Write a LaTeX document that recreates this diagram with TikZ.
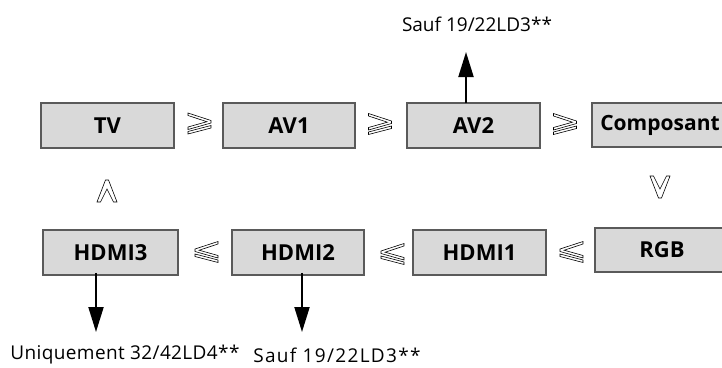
\documentclass[tikz,border=0pt]{standalone}
\usepackage{fontspec}
\setmainfont{Open Sans}
\usetikzlibrary{arrows.meta}
\definecolor{boxfill}{RGB}{217,217,217}
\definecolor{boxline}{RGB}{90,90,90}
\tikzset{
  menubox/.style={draw=boxline, line width=1.5pt, fill=boxfill, inner sep=0pt,
    font=\fontsize{22}{22}\selectfont\bfseries},
  symb/.style={draw=black, line width=0.6pt, fill=white, line join=miter},
  outarrow/.style={line width=2pt, -{Triangle[width=15pt,length=25pt]}},
  lbl/.style={inner sep=0pt, font=\fontsize{19}{19}\selectfont}
}
\newcommand\geqmark[1]{%
  \path[symb,shift={(#1)}] (-11.5,-10.5) -- (11.5,-3) -- (11.5,-0.5) -- (-11.5,6) -- (-11.5,3.5) -- (7.4,-1.8) -- (-11.5,-8) -- cycle
    (11.5,2) -- (11.5,4.5) -- (-11.5,10.5) -- (-11.5,8) -- cycle;}
\newcommand\leqmark[1]{%
  \path[symb,shift={(#1)},xscale=-1] (-11.5,-10.5) -- (11.5,-3) -- (11.5,-0.5) -- (-11.5,6) -- (-11.5,3.5) -- (7.4,-1.8) -- (-11.5,-8) -- cycle
    (11.5,2) -- (11.5,4.5) -- (-11.5,10.5) -- (-11.5,8) -- cycle;}
\newcommand\upmark[1]{%
  \path[symb,shift={(#1)}] (-10,11) -- (-1.5,-11) -- (1.5,-11) -- (10,11) -- (6.5,11) -- (0,-2) -- (-6.5,11) -- cycle;}
\newcommand\downmark[1]{%
  \path[symb,shift={(#1)},yscale=-1] (-10,11) -- (-1.5,-11) -- (1.5,-11) -- (10,11) -- (6.5,11) -- (0,-2) -- (-6.5,11) -- cycle;}
\begin{document}
\begin{tikzpicture}[x=1pt,y=-1pt]
\useasboundingbox (0,0) rectangle (722,367);
% top row
\node[menubox, minimum width=133pt, minimum height=45pt] (tv) at (107.5,125.5) {TV};
\node[menubox, minimum width=132pt, minimum height=45pt] (av1) at (289,125.5) {AV1};
\node[menubox, minimum width=133pt, minimum height=45pt] (av2) at (473.5,125.5) {AV2};
\node[menubox, minimum width=136pt, minimum height=44pt, font=\fontsize{21}{21}\selectfont\bfseries] (comp) at (660,125) {Composant};
% bottom row
\node[menubox, minimum width=135pt, minimum height=45pt] (h3) at (110.5,252.5) {HDMI3};
\node[menubox, minimum width=132pt, minimum height=45pt] (h2) at (298,252.5) {HDMI2};
\node[menubox, minimum width=133pt, minimum height=45pt] (h1) at (479.5,252.5) {HDMI1};
\node[menubox, minimum width=134pt, minimum height=44pt] (rgb) at (662,250) {RGB};
% order marks
\geqmark{199.5,123.5}
\geqmark{380,124}
\geqmark{565,124}
\leqmark{206.5,252}
\leqmark{392.5,254}
\leqmark{571.5,252}
\upmark{107,191}
\downmark{660,187}
% arrows and labels
\coordinate (t2) at (466,52);
\coordinate (b3) at (96,332);
\coordinate (b2) at (302,332);
\draw[outarrow] ([yshift=-1pt]av2.north -| t2) -- (t2);
\draw[outarrow] ([yshift=3pt]h3.south -| b3) -- (b3);
\draw[outarrow] ([yshift=3pt]h2.south -| b2) -- (b2);
\node[lbl] (lt) at (477,24) {Sauf 19/22LD3**};
\node[lbl, font=\fontsize{19}{19}\selectfont\addfontfeature{LetterSpace=2}] (l3) at (125,355) {Uniquement 32/42LD4**};
\node[lbl, font=\fontsize{19}{19}\selectfont\addfontfeature{LetterSpace=7}] (l2) at (337,355) {Sauf 19/22LD3**};
\end{tikzpicture}
\end{document}
